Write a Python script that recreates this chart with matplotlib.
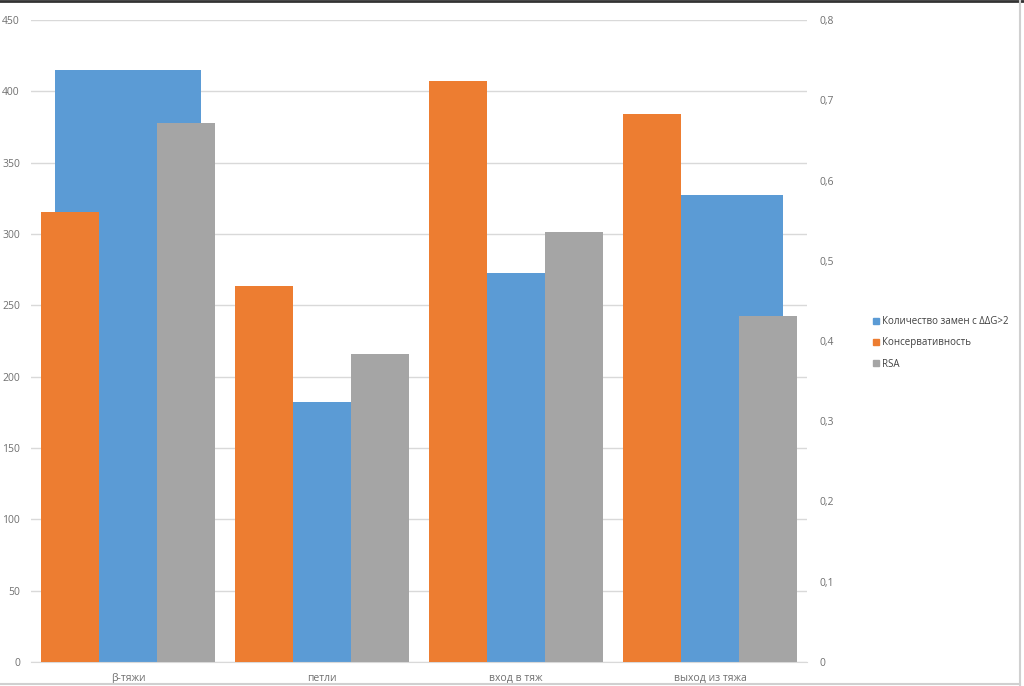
import matplotlib.pyplot as plt
import numpy as np
from matplotlib.patches import Patch

plt.rcParams['font.family'] = ['Open Sans', 'DejaVu Sans']

# data
categories = ["β-тяжи", "петли", "вход в тяж", "выход из тяжа"]
n_replacements = [415, 182, 273, 327]          # primary axis
conservation = [0.561, 0.468, 0.724, 0.683]    # secondary axis
rsa = [0.672, 0.384, 0.536, 0.431]             # secondary axis

left_ticks = np.arange(0, 451, 50)
right_ticks = np.arange(0, 0.81, 0.1)
series_names = ["Количество замен с ΔΔG>2", "Консервативность", "RSA"]

blue = "#5B9BD5"
orange = "#ED7D31"
gray = "#A5A5A5"
text_col = "#707070"
grid_col = "#D9D9D9"

fig = plt.figure(figsize=(10.24, 6.86), dpi=100)
ax = fig.add_axes([31 / 1024, 24 / 686, 776 / 1024, 642 / 686])
ax2 = ax.twinx()

x = np.arange(len(categories))

# primary series is a wide bar behind the two secondary ones
ax.bar(x, n_replacements, width=0.75, color=blue, zorder=2)
w = 0.3
ax2.bar(x - w, conservation, width=w, color=orange, zorder=2)
ax2.bar(x + w, rsa, width=w, color=gray, zorder=2)

ax.set_xlim(-0.5, len(categories) - 0.5)
ax.set_ylim(0, 450)
ax2.set_ylim(0, 0.8)

ax.set_yticks(left_ticks)
ax.set_yticklabels([str(v) for v in left_ticks])
ax2.set_yticks(right_ticks)
ax2.set_yticklabels(["0"] + [("%.1f" % v).replace(".", ",") for v in right_ticks[1:]])

ax.set_xticks(x)
ax.set_xticklabels(categories)

ax.grid(axis="y", color=grid_col, linewidth=1, zorder=0)
ax.set_axisbelow(True)

for a in (ax, ax2):
    for s in a.spines.values():
        s.set_visible(False)
    a.tick_params(length=0, labelsize=7.5, labelcolor=text_col)
ax.tick_params(axis="y", pad=8)
ax.tick_params(axis="x", pad=8)
ax2.tick_params(axis="y", pad=9)
ax.spines["bottom"].set_visible(True)
ax.spines["bottom"].set_color(grid_col)

handles = [Patch(color=c) for c in (blue, orange, gray)]
fig.legend(handles, series_names, loc="center left", bbox_to_anchor=(864 / 1024, 1 - 343 / 686),
           frameon=False, fontsize=7, labelcolor="#404040", handlelength=0.6, handleheight=0.6,
           handletextpad=0.35, labelspacing=1.05)

# outer frame like the screenshot
fig.add_artist(plt.Line2D([0, 1], [0.999, 0.999], transform=fig.transFigure, color="#333333", linewidth=2))
fig.add_artist(plt.Line2D([1020 / 1024, 1020 / 1024], [0, 1], transform=fig.transFigure, color="#D0D0D0", linewidth=1.5))
fig.add_artist(plt.Line2D([0, 1020 / 1024], [2 / 686, 2 / 686], transform=fig.transFigure, color="#D0D0D0", linewidth=1.5))

fig.savefig("out.png", dpi=100)
